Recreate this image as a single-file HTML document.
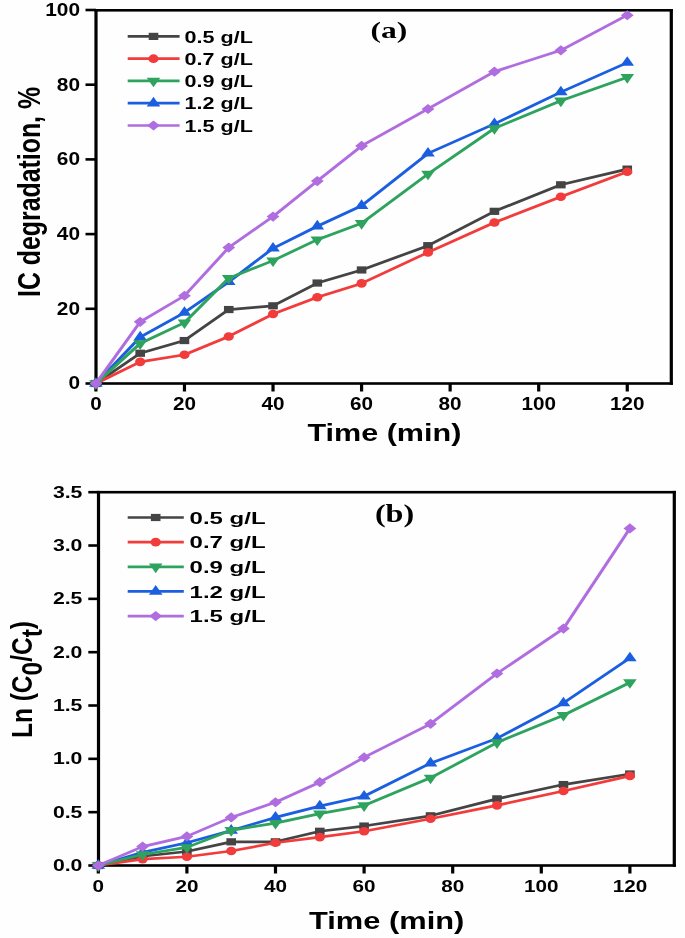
<!DOCTYPE html>
<html><head><meta charset="utf-8"><style>
html,body{margin:0;padding:0;background:#fefefe;}
body{width:685px;height:938px;overflow:hidden;font-family:"Liberation Sans",sans-serif;}
svg{display:block;filter:blur(0.5px);}
</style></head><body>
<svg width="685" height="938" viewBox="0 0 685 938" font-family="Liberation Sans, sans-serif" fill="#000">
<rect width="685" height="938" fill="#fefefe"/>
<rect x="94.40" y="9.00" width="578.50" height="2.6" fill="#000"/>
<rect x="94.40" y="382.20" width="578.50" height="2.6" fill="#000"/>
<rect x="94.40" y="9.00" width="3.2" height="375.80" fill="#000"/>
<rect x="669.70" y="9.00" width="3.2" height="375.80" fill="#000"/>
<rect x="85.5" y="382.20" width="10.50" height="2.6" fill="#000"/>
<text x="80" y="389.40" text-anchor="end" font-size="17.6" font-weight="bold" textLength="11.6" lengthAdjust="spacingAndGlyphs">0</text>
<rect x="85.5" y="307.50" width="10.50" height="2.6" fill="#000"/>
<text x="80" y="314.70" text-anchor="end" font-size="17.6" font-weight="bold" textLength="23.2" lengthAdjust="spacingAndGlyphs">20</text>
<rect x="85.5" y="232.80" width="10.50" height="2.6" fill="#000"/>
<text x="80" y="240.00" text-anchor="end" font-size="17.6" font-weight="bold" textLength="23.2" lengthAdjust="spacingAndGlyphs">40</text>
<rect x="85.5" y="158.10" width="10.50" height="2.6" fill="#000"/>
<text x="80" y="165.30" text-anchor="end" font-size="17.6" font-weight="bold" textLength="23.2" lengthAdjust="spacingAndGlyphs">60</text>
<rect x="85.5" y="83.40" width="10.50" height="2.6" fill="#000"/>
<text x="80" y="90.60" text-anchor="end" font-size="17.6" font-weight="bold" textLength="23.2" lengthAdjust="spacingAndGlyphs">80</text>
<rect x="85.5" y="8.70" width="10.50" height="2.6" fill="#000"/>
<text x="80" y="15.90" text-anchor="end" font-size="17.6" font-weight="bold" textLength="34.8" lengthAdjust="spacingAndGlyphs">100</text>
<rect x="94.30" y="383.5" width="3.2" height="8.00" fill="#000"/>
<text x="95.90" y="410.1" text-anchor="middle" font-size="17.6" font-weight="bold" textLength="11.5" lengthAdjust="spacingAndGlyphs">0</text>
<rect x="182.86" y="383.5" width="3.2" height="8.00" fill="#000"/>
<text x="184.46" y="410.1" text-anchor="middle" font-size="17.6" font-weight="bold" textLength="23.0" lengthAdjust="spacingAndGlyphs">20</text>
<rect x="271.42" y="383.5" width="3.2" height="8.00" fill="#000"/>
<text x="273.02" y="410.1" text-anchor="middle" font-size="17.6" font-weight="bold" textLength="23.0" lengthAdjust="spacingAndGlyphs">40</text>
<rect x="359.98" y="383.5" width="3.2" height="8.00" fill="#000"/>
<text x="361.58" y="410.1" text-anchor="middle" font-size="17.6" font-weight="bold" textLength="23.0" lengthAdjust="spacingAndGlyphs">60</text>
<rect x="448.54" y="383.5" width="3.2" height="8.00" fill="#000"/>
<text x="450.14" y="410.1" text-anchor="middle" font-size="17.6" font-weight="bold" textLength="23.0" lengthAdjust="spacingAndGlyphs">80</text>
<rect x="537.10" y="383.5" width="3.2" height="8.00" fill="#000"/>
<text x="538.70" y="410.1" text-anchor="middle" font-size="17.6" font-weight="bold" textLength="34.5" lengthAdjust="spacingAndGlyphs">100</text>
<rect x="625.66" y="383.5" width="3.2" height="8.00" fill="#000"/>
<text x="627.26" y="410.1" text-anchor="middle" font-size="17.6" font-weight="bold" textLength="34.5" lengthAdjust="spacingAndGlyphs">120</text>
<polyline transform="scale(1.2,1)" points="79.92,383.50 116.82,353.25 153.72,340.55 190.62,309.55 227.52,305.81 264.42,283.03 301.32,269.96 356.67,245.68 412.02,211.32 467.37,184.80 522.72,169.11" fill="none" stroke="#444444" stroke-width="2.7" stroke-linejoin="round"/>
<rect x="91.10" y="379.90" width="9.60" height="7.20" fill="#444444"/>
<rect x="135.38" y="349.65" width="9.60" height="7.20" fill="#444444"/>
<rect x="179.66" y="336.95" width="9.60" height="7.20" fill="#444444"/>
<rect x="223.94" y="305.95" width="9.60" height="7.20" fill="#444444"/>
<rect x="268.22" y="302.21" width="9.60" height="7.20" fill="#444444"/>
<rect x="312.50" y="279.43" width="9.60" height="7.20" fill="#444444"/>
<rect x="356.78" y="266.36" width="9.60" height="7.20" fill="#444444"/>
<rect x="423.20" y="242.08" width="9.60" height="7.20" fill="#444444"/>
<rect x="489.62" y="207.72" width="9.60" height="7.20" fill="#444444"/>
<rect x="556.04" y="181.20" width="9.60" height="7.20" fill="#444444"/>
<rect x="622.46" y="165.51" width="9.60" height="7.20" fill="#444444"/>
<polyline transform="scale(1.2,1)" points="79.92,383.50 116.82,361.84 153.72,354.74 190.62,336.44 227.52,314.03 264.42,297.22 301.32,283.40 356.67,252.40 412.02,222.52 467.37,196.75 522.72,171.73" fill="none" stroke="#f23b3b" stroke-width="2.7" stroke-linejoin="round"/>
<ellipse cx="95.90" cy="383.50" rx="5.10" ry="4.30" fill="#f23b3b"/>
<ellipse cx="140.18" cy="361.84" rx="5.10" ry="4.30" fill="#f23b3b"/>
<ellipse cx="184.46" cy="354.74" rx="5.10" ry="4.30" fill="#f23b3b"/>
<ellipse cx="228.74" cy="336.44" rx="5.10" ry="4.30" fill="#f23b3b"/>
<ellipse cx="273.02" cy="314.03" rx="5.10" ry="4.30" fill="#f23b3b"/>
<ellipse cx="317.30" cy="297.22" rx="5.10" ry="4.30" fill="#f23b3b"/>
<ellipse cx="361.58" cy="283.40" rx="5.10" ry="4.30" fill="#f23b3b"/>
<ellipse cx="428.00" cy="252.40" rx="5.10" ry="4.30" fill="#f23b3b"/>
<ellipse cx="494.42" cy="222.52" rx="5.10" ry="4.30" fill="#f23b3b"/>
<ellipse cx="560.84" cy="196.75" rx="5.10" ry="4.30" fill="#f23b3b"/>
<ellipse cx="627.26" cy="171.73" rx="5.10" ry="4.30" fill="#f23b3b"/>
<polyline transform="scale(1.2,1)" points="79.92,383.50 116.82,337.19 153.72,312.53 190.62,281.91 227.52,248.29 264.42,226.26 301.32,205.71 356.67,153.42 412.02,123.92 467.37,92.17 522.72,62.66" fill="none" stroke="#1a5fe0" stroke-width="2.7" stroke-linejoin="round"/>
<path d="M89.10 386.70L102.70 386.70L95.90 377.10Z" fill="#1a5fe0"/>
<path d="M133.38 340.39L146.98 340.39L140.18 330.79Z" fill="#1a5fe0"/>
<path d="M177.66 315.73L191.26 315.73L184.46 306.13Z" fill="#1a5fe0"/>
<path d="M221.94 285.11L235.54 285.11L228.74 275.51Z" fill="#1a5fe0"/>
<path d="M266.22 251.49L279.82 251.49L273.02 241.89Z" fill="#1a5fe0"/>
<path d="M310.50 229.46L324.10 229.46L317.30 219.86Z" fill="#1a5fe0"/>
<path d="M354.78 208.91L368.38 208.91L361.58 199.31Z" fill="#1a5fe0"/>
<path d="M421.20 156.62L434.80 156.62L428.00 147.02Z" fill="#1a5fe0"/>
<path d="M487.62 127.12L501.22 127.12L494.42 117.52Z" fill="#1a5fe0"/>
<path d="M554.04 95.37L567.64 95.37L560.84 85.77Z" fill="#1a5fe0"/>
<path d="M620.46 65.86L634.06 65.86L627.26 56.26Z" fill="#1a5fe0"/>
<polyline transform="scale(1.2,1)" points="79.92,383.50 116.82,343.54 153.72,322.62 190.62,278.17 227.52,260.62 264.42,239.70 301.32,223.27 356.67,173.97 412.02,128.40 467.37,100.76 522.72,77.23" fill="none" stroke="#2ea35e" stroke-width="2.7" stroke-linejoin="round"/>
<path d="M89.10 380.30L102.70 380.30L95.90 389.90Z" fill="#2ea35e"/>
<path d="M133.38 340.34L146.98 340.34L140.18 349.94Z" fill="#2ea35e"/>
<path d="M177.66 319.42L191.26 319.42L184.46 329.02Z" fill="#2ea35e"/>
<path d="M221.94 274.97L235.54 274.97L228.74 284.57Z" fill="#2ea35e"/>
<path d="M266.22 257.42L279.82 257.42L273.02 267.02Z" fill="#2ea35e"/>
<path d="M310.50 236.50L324.10 236.50L317.30 246.10Z" fill="#2ea35e"/>
<path d="M354.78 220.07L368.38 220.07L361.58 229.67Z" fill="#2ea35e"/>
<path d="M421.20 170.77L434.80 170.77L428.00 180.37Z" fill="#2ea35e"/>
<path d="M487.62 125.20L501.22 125.20L494.42 134.80Z" fill="#2ea35e"/>
<path d="M554.04 97.56L567.64 97.56L560.84 107.16Z" fill="#2ea35e"/>
<path d="M620.46 74.03L634.06 74.03L627.26 83.63Z" fill="#2ea35e"/>
<polyline transform="scale(1.2,1)" points="79.92,383.50 116.82,321.87 153.72,295.73 190.62,247.55 227.52,216.55 264.42,181.06 301.32,145.95 356.67,108.98 412.02,71.63 467.37,50.34 522.72,15.23" fill="none" stroke="#b06ddf" stroke-width="2.7" stroke-linejoin="round"/>
<path d="M89.50 383.50L95.90 378.40L102.30 383.50L95.90 388.60Z" fill="#b06ddf"/>
<path d="M133.78 321.87L140.18 316.77L146.58 321.87L140.18 326.97Z" fill="#b06ddf"/>
<path d="M178.06 295.73L184.46 290.63L190.86 295.73L184.46 300.83Z" fill="#b06ddf"/>
<path d="M222.34 247.55L228.74 242.45L235.14 247.55L228.74 252.65Z" fill="#b06ddf"/>
<path d="M266.62 216.55L273.02 211.45L279.42 216.55L273.02 221.65Z" fill="#b06ddf"/>
<path d="M310.90 181.06L317.30 175.96L323.70 181.06L317.30 186.16Z" fill="#b06ddf"/>
<path d="M355.18 145.95L361.58 140.85L367.98 145.95L361.58 151.05Z" fill="#b06ddf"/>
<path d="M421.60 108.98L428.00 103.88L434.40 108.98L428.00 114.08Z" fill="#b06ddf"/>
<path d="M488.02 71.63L494.42 66.53L500.82 71.63L494.42 76.73Z" fill="#b06ddf"/>
<path d="M554.44 50.34L560.84 45.24L567.24 50.34L560.84 55.44Z" fill="#b06ddf"/>
<path d="M620.86 15.23L627.26 10.13L633.66 15.23L627.26 20.33Z" fill="#b06ddf"/>
<text x="307.5" y="440.5" font-size="24" font-weight="bold" textLength="153.8" lengthAdjust="spacingAndGlyphs">Time (min)</text>
<text transform="translate(40.4,297) rotate(-90) scale(1,1.25)" font-size="24.5" font-weight="bold" textLength="210" lengthAdjust="spacingAndGlyphs">IC degradation, %</text>
<text x="370.6" y="38" font-family="Liberation Serif" font-weight="bold" font-size="23" textLength="36.8" lengthAdjust="spacingAndGlyphs">(a)</text>
<line x1="127.7" y1="36.40" x2="179.6" y2="36.40" stroke="#444444" stroke-width="2.7"/>
<rect x="148.70" y="32.80" width="9.60" height="7.20" fill="#444444"/>
<text x="184.6" y="42.60" font-size="17.2" font-weight="bold" textLength="68.2" lengthAdjust="spacingAndGlyphs">0.5 g/L</text>
<line x1="127.7" y1="58.67" x2="179.6" y2="58.67" stroke="#f23b3b" stroke-width="2.7"/>
<ellipse cx="153.50" cy="58.67" rx="5.10" ry="4.30" fill="#f23b3b"/>
<text x="184.6" y="64.87" font-size="17.2" font-weight="bold" textLength="68.2" lengthAdjust="spacingAndGlyphs">0.7 g/L</text>
<line x1="127.7" y1="80.94" x2="179.6" y2="80.94" stroke="#2ea35e" stroke-width="2.7"/>
<path d="M146.70 77.74L160.30 77.74L153.50 87.34Z" fill="#2ea35e"/>
<text x="184.6" y="87.14" font-size="17.2" font-weight="bold" textLength="68.2" lengthAdjust="spacingAndGlyphs">0.9 g/L</text>
<line x1="127.7" y1="103.21" x2="179.6" y2="103.21" stroke="#1a5fe0" stroke-width="2.7"/>
<path d="M146.70 106.41L160.30 106.41L153.50 96.81Z" fill="#1a5fe0"/>
<text x="184.6" y="109.41" font-size="17.2" font-weight="bold" textLength="68.2" lengthAdjust="spacingAndGlyphs">1.2 g/L</text>
<line x1="127.7" y1="125.48" x2="179.6" y2="125.48" stroke="#b06ddf" stroke-width="2.7"/>
<path d="M147.10 125.48L153.50 120.38L159.90 125.48L153.50 130.58Z" fill="#b06ddf"/>
<text x="184.6" y="131.68" font-size="17.2" font-weight="bold" textLength="68.2" lengthAdjust="spacingAndGlyphs">1.5 g/L</text>
<rect x="96.90" y="490.90" width="579.00" height="2.6" fill="#000"/>
<rect x="96.90" y="864.20" width="579.00" height="2.6" fill="#000"/>
<rect x="96.90" y="490.90" width="3.2" height="375.90" fill="#000"/>
<rect x="672.70" y="490.90" width="3.2" height="375.90" fill="#000"/>
<rect x="88.3" y="864.20" width="10.20" height="2.6" fill="#000"/>
<text x="82.4" y="871.10" text-anchor="end" font-size="16" font-weight="bold" textLength="29.5" lengthAdjust="spacingAndGlyphs">0.0</text>
<rect x="88.3" y="810.87" width="10.20" height="2.6" fill="#000"/>
<text x="82.4" y="817.77" text-anchor="end" font-size="16" font-weight="bold" textLength="29.5" lengthAdjust="spacingAndGlyphs">0.5</text>
<rect x="88.3" y="757.54" width="10.20" height="2.6" fill="#000"/>
<text x="82.4" y="764.44" text-anchor="end" font-size="16" font-weight="bold" textLength="29.5" lengthAdjust="spacingAndGlyphs">1.0</text>
<rect x="88.3" y="704.21" width="10.20" height="2.6" fill="#000"/>
<text x="82.4" y="711.11" text-anchor="end" font-size="16" font-weight="bold" textLength="29.5" lengthAdjust="spacingAndGlyphs">1.5</text>
<rect x="88.3" y="650.88" width="10.20" height="2.6" fill="#000"/>
<text x="82.4" y="657.78" text-anchor="end" font-size="16" font-weight="bold" textLength="29.5" lengthAdjust="spacingAndGlyphs">2.0</text>
<rect x="88.3" y="597.55" width="10.20" height="2.6" fill="#000"/>
<text x="82.4" y="604.45" text-anchor="end" font-size="16" font-weight="bold" textLength="29.5" lengthAdjust="spacingAndGlyphs">2.5</text>
<rect x="88.3" y="544.22" width="10.20" height="2.6" fill="#000"/>
<text x="82.4" y="551.12" text-anchor="end" font-size="16" font-weight="bold" textLength="29.5" lengthAdjust="spacingAndGlyphs">3.0</text>
<rect x="88.3" y="490.89" width="10.20" height="2.6" fill="#000"/>
<text x="82.4" y="497.79" text-anchor="end" font-size="16" font-weight="bold" textLength="29.5" lengthAdjust="spacingAndGlyphs">3.5</text>
<rect x="96.70" y="865.5" width="3.2" height="8.00" fill="#000"/>
<text x="98.30" y="891.8" text-anchor="middle" font-size="16" font-weight="bold" textLength="11.5" lengthAdjust="spacingAndGlyphs">0</text>
<rect x="185.30" y="865.5" width="3.2" height="8.00" fill="#000"/>
<text x="186.90" y="891.8" text-anchor="middle" font-size="16" font-weight="bold" textLength="23.0" lengthAdjust="spacingAndGlyphs">20</text>
<rect x="273.90" y="865.5" width="3.2" height="8.00" fill="#000"/>
<text x="275.50" y="891.8" text-anchor="middle" font-size="16" font-weight="bold" textLength="23.0" lengthAdjust="spacingAndGlyphs">40</text>
<rect x="362.50" y="865.5" width="3.2" height="8.00" fill="#000"/>
<text x="364.10" y="891.8" text-anchor="middle" font-size="16" font-weight="bold" textLength="23.0" lengthAdjust="spacingAndGlyphs">60</text>
<rect x="451.10" y="865.5" width="3.2" height="8.00" fill="#000"/>
<text x="452.70" y="891.8" text-anchor="middle" font-size="16" font-weight="bold" textLength="23.0" lengthAdjust="spacingAndGlyphs">80</text>
<rect x="539.70" y="865.5" width="3.2" height="8.00" fill="#000"/>
<text x="541.30" y="891.8" text-anchor="middle" font-size="16" font-weight="bold" textLength="34.5" lengthAdjust="spacingAndGlyphs">100</text>
<rect x="628.30" y="865.5" width="3.2" height="8.00" fill="#000"/>
<text x="629.90" y="891.8" text-anchor="middle" font-size="16" font-weight="bold" textLength="34.5" lengthAdjust="spacingAndGlyphs">120</text>
<polyline transform="scale(1.2,1)" points="81.92,865.50 118.83,856.22 155.75,851.53 192.67,841.82 229.58,841.82 266.50,831.26 303.42,826.04 358.79,815.80 414.17,798.84 469.54,784.55 524.92,773.99" fill="none" stroke="#444444" stroke-width="2.7" stroke-linejoin="round"/>
<rect x="93.50" y="861.90" width="9.60" height="7.20" fill="#444444"/>
<rect x="137.80" y="852.62" width="9.60" height="7.20" fill="#444444"/>
<rect x="182.10" y="847.93" width="9.60" height="7.20" fill="#444444"/>
<rect x="226.40" y="838.22" width="9.60" height="7.20" fill="#444444"/>
<rect x="270.70" y="838.22" width="9.60" height="7.20" fill="#444444"/>
<rect x="315.00" y="827.66" width="9.60" height="7.20" fill="#444444"/>
<rect x="359.30" y="822.44" width="9.60" height="7.20" fill="#444444"/>
<rect x="425.75" y="812.20" width="9.60" height="7.20" fill="#444444"/>
<rect x="492.20" y="795.24" width="9.60" height="7.20" fill="#444444"/>
<rect x="558.65" y="780.95" width="9.60" height="7.20" fill="#444444"/>
<rect x="625.10" y="770.39" width="9.60" height="7.20" fill="#444444"/>
<polyline transform="scale(1.2,1)" points="81.92,865.50 118.83,859.10 155.75,856.75 192.67,850.99 229.58,842.78 266.50,837.13 303.42,831.26 358.79,818.78 414.17,805.34 469.54,790.94 524.92,775.91" fill="none" stroke="#f23b3b" stroke-width="2.7" stroke-linejoin="round"/>
<ellipse cx="98.30" cy="865.50" rx="5.10" ry="4.30" fill="#f23b3b"/>
<ellipse cx="142.60" cy="859.10" rx="5.10" ry="4.30" fill="#f23b3b"/>
<ellipse cx="186.90" cy="856.75" rx="5.10" ry="4.30" fill="#f23b3b"/>
<ellipse cx="231.20" cy="850.99" rx="5.10" ry="4.30" fill="#f23b3b"/>
<ellipse cx="275.50" cy="842.78" rx="5.10" ry="4.30" fill="#f23b3b"/>
<ellipse cx="319.80" cy="837.13" rx="5.10" ry="4.30" fill="#f23b3b"/>
<ellipse cx="364.10" cy="831.26" rx="5.10" ry="4.30" fill="#f23b3b"/>
<ellipse cx="430.55" cy="818.78" rx="5.10" ry="4.30" fill="#f23b3b"/>
<ellipse cx="497.00" cy="805.34" rx="5.10" ry="4.30" fill="#f23b3b"/>
<ellipse cx="563.45" cy="790.94" rx="5.10" ry="4.30" fill="#f23b3b"/>
<ellipse cx="629.90" cy="775.91" rx="5.10" ry="4.30" fill="#f23b3b"/>
<polyline transform="scale(1.2,1)" points="81.92,865.50 118.83,852.38 155.75,842.78 192.67,830.52 229.58,817.40 266.50,806.09 303.42,796.28 358.79,763.21 414.17,738.36 469.54,703.06 524.92,658.05" fill="none" stroke="#1a5fe0" stroke-width="2.7" stroke-linejoin="round"/>
<path d="M91.50 868.70L105.10 868.70L98.30 859.10Z" fill="#1a5fe0"/>
<path d="M135.80 855.58L149.40 855.58L142.60 845.98Z" fill="#1a5fe0"/>
<path d="M180.10 845.98L193.70 845.98L186.90 836.38Z" fill="#1a5fe0"/>
<path d="M224.40 833.72L238.00 833.72L231.20 824.12Z" fill="#1a5fe0"/>
<path d="M268.70 820.60L282.30 820.60L275.50 811.00Z" fill="#1a5fe0"/>
<path d="M313.00 809.29L326.60 809.29L319.80 799.69Z" fill="#1a5fe0"/>
<path d="M357.30 799.48L370.90 799.48L364.10 789.88Z" fill="#1a5fe0"/>
<path d="M423.75 766.41L437.35 766.41L430.55 756.81Z" fill="#1a5fe0"/>
<path d="M490.20 741.56L503.80 741.56L497.00 731.96Z" fill="#1a5fe0"/>
<path d="M556.65 706.26L570.25 706.26L563.45 696.66Z" fill="#1a5fe0"/>
<path d="M623.10 661.25L636.70 661.25L629.90 651.65Z" fill="#1a5fe0"/>
<polyline transform="scale(1.2,1)" points="81.92,865.50 118.83,854.51 155.75,847.37 192.67,830.30 229.58,823.16 266.50,813.66 303.42,805.56 358.79,777.83 414.17,742.52 469.54,715.22 524.92,682.47" fill="none" stroke="#2ea35e" stroke-width="2.7" stroke-linejoin="round"/>
<path d="M91.50 862.30L105.10 862.30L98.30 871.90Z" fill="#2ea35e"/>
<path d="M135.80 851.31L149.40 851.31L142.60 860.91Z" fill="#2ea35e"/>
<path d="M180.10 844.17L193.70 844.17L186.90 853.77Z" fill="#2ea35e"/>
<path d="M224.40 827.10L238.00 827.10L231.20 836.70Z" fill="#2ea35e"/>
<path d="M268.70 819.96L282.30 819.96L275.50 829.56Z" fill="#2ea35e"/>
<path d="M313.00 810.46L326.60 810.46L319.80 820.06Z" fill="#2ea35e"/>
<path d="M357.30 802.36L370.90 802.36L364.10 811.96Z" fill="#2ea35e"/>
<path d="M423.75 774.63L437.35 774.63L430.55 784.23Z" fill="#2ea35e"/>
<path d="M490.20 739.32L503.80 739.32L497.00 748.92Z" fill="#2ea35e"/>
<path d="M556.65 712.02L570.25 712.02L563.45 721.62Z" fill="#2ea35e"/>
<path d="M623.10 679.27L636.70 679.27L629.90 688.87Z" fill="#2ea35e"/>
<polyline transform="scale(1.2,1)" points="81.92,865.50 118.83,846.62 155.75,836.38 192.67,817.40 229.58,802.25 266.50,782.20 303.42,757.45 358.79,723.86 414.17,673.51 469.54,628.61 524.92,528.45" fill="none" stroke="#b06ddf" stroke-width="2.7" stroke-linejoin="round"/>
<path d="M91.90 865.50L98.30 860.40L104.70 865.50L98.30 870.60Z" fill="#b06ddf"/>
<path d="M136.20 846.62L142.60 841.52L149.00 846.62L142.60 851.72Z" fill="#b06ddf"/>
<path d="M180.50 836.38L186.90 831.28L193.30 836.38L186.90 841.48Z" fill="#b06ddf"/>
<path d="M224.80 817.40L231.20 812.30L237.60 817.40L231.20 822.50Z" fill="#b06ddf"/>
<path d="M269.10 802.25L275.50 797.15L281.90 802.25L275.50 807.35Z" fill="#b06ddf"/>
<path d="M313.40 782.20L319.80 777.10L326.20 782.20L319.80 787.30Z" fill="#b06ddf"/>
<path d="M357.70 757.45L364.10 752.35L370.50 757.45L364.10 762.55Z" fill="#b06ddf"/>
<path d="M424.15 723.86L430.55 718.76L436.95 723.86L430.55 728.96Z" fill="#b06ddf"/>
<path d="M490.60 673.51L497.00 668.41L503.40 673.51L497.00 678.61Z" fill="#b06ddf"/>
<path d="M557.05 628.61L563.45 623.51L569.85 628.61L563.45 633.71Z" fill="#b06ddf"/>
<path d="M623.50 528.45L629.90 523.35L636.30 528.45L629.90 533.55Z" fill="#b06ddf"/>
<text x="309.0" y="928.6" font-size="24" font-weight="bold" textLength="155.3" lengthAdjust="spacingAndGlyphs">Time (min)</text>
<text transform="translate(32.4,738) rotate(-90) scale(1,1.22)" font-size="24.5" font-weight="bold" textLength="117" lengthAdjust="spacingAndGlyphs">Ln (C<tspan dy="7.8">0</tspan><tspan dy="-7.8">/C</tspan><tspan dy="7.8">t</tspan><tspan dy="-7.8">)</tspan></text>
<text x="374.9" y="521.5" font-family="Liberation Serif" font-weight="bold" font-size="25" textLength="39.3" lengthAdjust="spacingAndGlyphs">(b)</text>
<line x1="127.7" y1="517.50" x2="183.8" y2="517.50" stroke="#444444" stroke-width="2.7"/>
<rect x="150.90" y="513.90" width="9.60" height="7.20" fill="#444444"/>
<text x="189.6" y="523.70" font-size="17.2" font-weight="bold" textLength="76" lengthAdjust="spacingAndGlyphs">0.5 g/L</text>
<line x1="127.7" y1="542.15" x2="183.8" y2="542.15" stroke="#f23b3b" stroke-width="2.7"/>
<ellipse cx="155.70" cy="542.15" rx="5.10" ry="4.30" fill="#f23b3b"/>
<text x="189.6" y="548.35" font-size="17.2" font-weight="bold" textLength="76" lengthAdjust="spacingAndGlyphs">0.7 g/L</text>
<line x1="127.7" y1="566.80" x2="183.8" y2="566.80" stroke="#2ea35e" stroke-width="2.7"/>
<path d="M148.90 563.60L162.50 563.60L155.70 573.20Z" fill="#2ea35e"/>
<text x="189.6" y="573.00" font-size="17.2" font-weight="bold" textLength="76" lengthAdjust="spacingAndGlyphs">0.9 g/L</text>
<line x1="127.7" y1="591.45" x2="183.8" y2="591.45" stroke="#1a5fe0" stroke-width="2.7"/>
<path d="M148.90 594.65L162.50 594.65L155.70 585.05Z" fill="#1a5fe0"/>
<text x="189.6" y="597.65" font-size="17.2" font-weight="bold" textLength="76" lengthAdjust="spacingAndGlyphs">1.2 g/L</text>
<line x1="127.7" y1="616.10" x2="183.8" y2="616.10" stroke="#b06ddf" stroke-width="2.7"/>
<path d="M149.30 616.10L155.70 611.00L162.10 616.10L155.70 621.20Z" fill="#b06ddf"/>
<text x="189.6" y="622.30" font-size="17.2" font-weight="bold" textLength="76" lengthAdjust="spacingAndGlyphs">1.5 g/L</text>
</svg>
</body></html>
